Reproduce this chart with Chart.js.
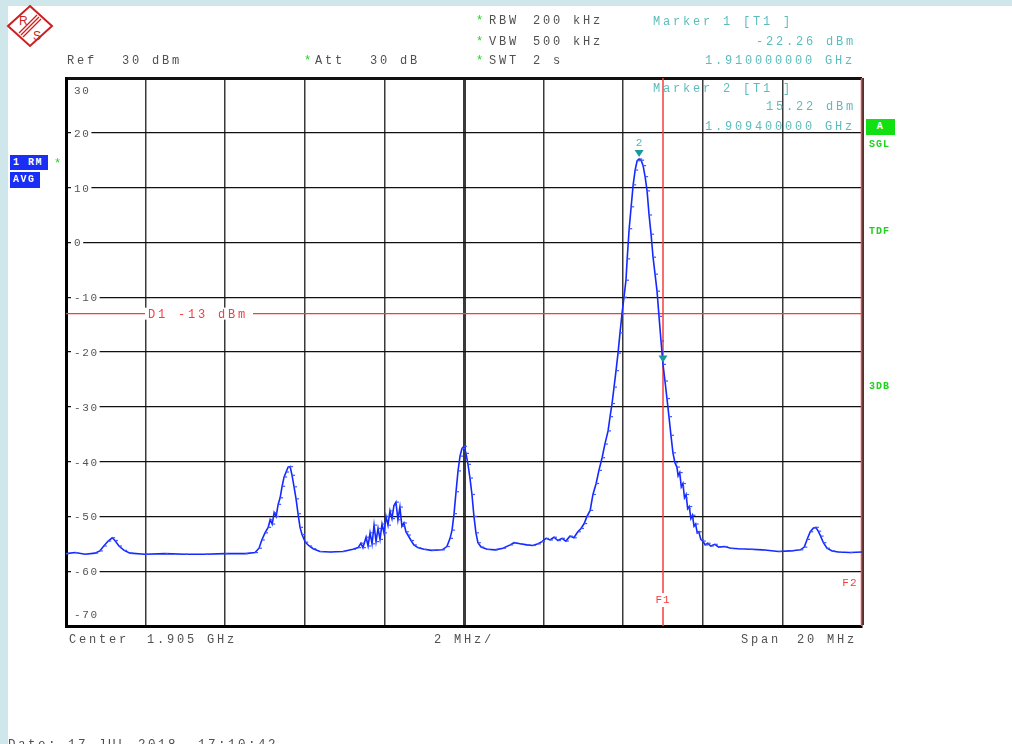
<!DOCTYPE html>
<html><head><meta charset="utf-8">
<script src="https://cdn.jsdelivr.net/npm/chart.js@4.4.1/dist/chart.umd.min.js"></script>
<style>
html,body{margin:0;padding:0;}
body{width:1012px;height:744px;overflow:hidden;position:relative;background:#cfe6ea;font-family:'Liberation Mono',monospace;}
#panel{position:absolute;left:8px;top:6px;width:1004px;height:738px;background:#fff;}
#c{position:absolute;left:0;top:0;}
.t{position:absolute;font-size:12px;letter-spacing:2.8px;line-height:16px;white-space:pre;color:#505050;}
.m{color:#5cbcbc;}
.s{color:#1fd21f;}
.box{position:absolute;color:#fff;font-weight:bold;font-size:10px;letter-spacing:1.5px;line-height:16px;white-space:pre;padding-left:3px;box-sizing:border-box;}
.gr{position:absolute;color:#1fd21f;font-weight:bold;font-size:10px;letter-spacing:1px;line-height:12px;}
</style>
</head><body>
<div id="panel"></div>
<svg style="position:absolute;left:6px;top:4px" width="48" height="44" viewBox="0 0 48 44">
  <polygon points="24,2 46,22 24,42 2,22" fill="#fff" stroke="#cc1f1f" stroke-width="2"/>
  <line x1="15" y1="31" x2="33" y2="13" stroke="#cc1f1f" stroke-width="1.2"/>
  <line x1="17" y1="33" x2="35" y2="15" stroke="#cc1f1f" stroke-width="1.2"/>
  <line x1="13" y1="29" x2="31" y2="11" stroke="#cc1f1f" stroke-width="1.2"/>
  <text x="13" y="21" font-family="Liberation Sans" font-size="12" fill="#cc1f1f">R</text>
  <text x="27" y="36" font-family="Liberation Sans" font-size="12" fill="#cc1f1f">S</text>
</svg>
<canvas id="c" width="1012" height="744"></canvas>

<div class="t" style="left:67px;top:53px">Ref</div>
<div class="t" style="left:122px;top:53px">30 dBm</div>
<div class="t s" style="left:304px;top:53px">*</div>
<div class="t" style="left:315px;top:53px">Att</div>
<div class="t" style="left:370px;top:53px">30 dB</div>

<div class="t s" style="left:476px;top:13px">*</div>
<div class="t" style="left:489px;top:13px">RBW</div>
<div class="t" style="left:533px;top:13px">200 kHz</div>
<div class="t s" style="left:476px;top:34px">*</div>
<div class="t" style="left:489px;top:34px">VBW</div>
<div class="t" style="left:533px;top:34px">500 kHz</div>
<div class="t s" style="left:476px;top:53px">*</div>
<div class="t" style="left:489px;top:53px">SWT</div>
<div class="t" style="left:533px;top:53px">2 s</div>

<div class="t m" style="left:653px;top:14px">Marker 1 [T1 ]</div>
<div class="t m" style="left:756px;top:34px">-22.26 dBm</div>
<div class="t m" style="left:705px;top:53px">1.910000000 GHz</div>
<div class="t m" style="left:653px;top:81px">Marker 2 [T1 ]</div>
<div class="t m" style="left:766px;top:99px">15.22 dBm</div>
<div class="t m" style="left:705px;top:119px">1.909400000 GHz</div>

<div class="box" style="left:10px;top:155px;width:38px;height:15px;background:#1a2ef5;">1 RM</div>
<div class="t s" style="left:54px;top:156px">*</div>
<div class="box" style="left:10px;top:172px;width:30px;height:16px;background:#1a2ef5;">AVG</div>

<div class="box" style="left:866px;top:119px;width:29px;height:16px;background:#12e012;text-align:center;padding-left:0">A</div>
<div class="gr" style="left:869px;top:139px">SGL</div>
<div class="gr" style="left:869px;top:226px">TDF</div>
<div class="gr" style="left:869px;top:381px">3DB</div>

<div class="t" style="left:69px;top:632px">Center</div>
<div class="t" style="left:147px;top:632px">1.905 GHz</div>
<div class="t" style="left:434px;top:632px">2 MHz/</div>
<div class="t" style="left:741px;top:632px">Span</div>
<div class="t" style="left:797px;top:632px">20 MHz</div>
<div class="t" style="left:8px;top:737px;font-size:12.5px;letter-spacing:2.5px">Date: 17.JUL.2018  17:10:42</div>

<script>
// ---- data ----
const freqMHz = [
 1895.00,1895.23,1895.48,1895.73,1895.85,1895.95,1896.06,1896.16,1896.23,1896.33,1896.46,1896.61,1896.98,1897.49,1897.99,1898.49,1898.99,1899.50,1899.75,1899.85,
 1899.92,1900.00,1900.08,1900.13,1900.18,1900.23,1900.28,1900.33,1900.38,1900.43,1900.48,1900.53,1900.58,1900.63,1900.68,1900.73,1900.78,1900.83,1900.88,1900.93,
 1901.01,1901.11,1901.21,1901.38,1901.63,1901.96,1902.21,1902.34,1902.41,1902.46,1902.54,1902.59,1902.64,1902.69,1902.74,1902.79,1902.84,1902.89,1902.94,1902.99,
 1903.04,1903.09,1903.14,1903.19,1903.24,1903.29,1903.34,1903.39,1903.44,1903.49,1903.54,1903.59,1903.67,1903.74,1903.84,1903.99,1904.19,1904.45,1904.57,1904.65,
 1904.70,1904.75,1904.80,1904.85,1904.90,1904.95,1905.00,1905.05,1905.10,1905.15,1905.20,1905.25,1905.30,1905.35,1905.43,1905.58,1905.78,1905.98,1906.16,1906.26,
 1906.41,1906.58,1906.73,1906.86,1906.96,1907.06,1907.16,1907.26,1907.36,1907.46,1907.56,1907.66,1907.76,1907.86,1907.94,1908.02,1908.09,1908.17,1908.24,1908.32,
 1908.39,1908.47,1908.54,1908.62,1908.67,1908.72,1908.77,1908.82,1908.87,1908.92,1908.97,1909.02,1909.07,1909.10,1909.15,1909.20,1909.25,1909.30,1909.35,1909.40,
 1909.45,1909.50,1909.55,1909.60,1909.65,1909.70,1909.75,1909.80,1909.85,1909.90,1909.95,1910.00,1910.05,1910.10,1910.15,1910.20,1910.25,1910.30,1910.35,1910.38,
 1910.42,1910.46,1910.50,1910.54,1910.58,1910.62,1910.66,1910.70,1910.74,1910.78,1910.82,1910.86,1910.90,1910.95,1911.00,1911.06,1911.12,1911.20,1911.30,1911.40,
 1911.55,1911.70,1911.90,1912.20,1912.50,1912.90,1913.20,1913.45,1913.55,1913.62,1913.70,1913.78,1913.84,1913.90,1913.96,1914.03,1914.12,1914.25,1914.40,1914.70,
 1915.00
];
const levelDbm = [
 -56.8,-56.6,-56.9,-56.7,-56.3,-55.4,-54.5,-53.9,-54.4,-55.4,-56.2,-56.7,-56.9,-56.8,-56.9,-56.9,-56.8,-56.8,-56.6,-55.8,
 -54.3,-53.0,-52.0,-50.6,-51.4,-49.3,-50.0,-47.8,-46.6,-44.5,-42.8,-41.9,-41.0,-40.9,-42.5,-44.6,-46.8,-49.5,-52.0,-53.3,
 -54.7,-55.4,-55.9,-56.4,-56.5,-56.4,-56.0,-55.7,-54.9,-55.7,-53.8,-55.4,-53.0,-55.0,-51.6,-54.6,-52.2,-54.2,-51.4,-53.0,
 -50.0,-51.6,-49.0,-50.4,-48.0,-47.4,-50.6,-48.3,-51.8,-51.2,-52.8,-53.4,-54.4,-55.2,-55.7,-56.0,-56.2,-56.1,-55.5,-54.0,
 -52.5,-49.5,-45.5,-41.7,-39.0,-37.6,-37.2,-38.5,-40.5,-43.0,-46.0,-50.0,-53.0,-54.8,-55.6,-56.0,-56.1,-55.8,-55.2,-54.8,
 -55.0,-55.2,-55.3,-55.0,-54.6,-54.0,-54.3,-53.8,-54.4,-54.0,-54.5,-53.6,-53.9,-52.8,-52.2,-51.3,-50.0,-48.9,-46.0,-44.0,
 -41.6,-39.3,-36.8,-34.4,-31.8,-29.4,-26.4,-23.4,-20.2,-16.5,-13.0,-10.0,-6.9,-3.0,2.5,6.5,10.5,13.2,14.9,15.22,
 15.0,14.0,12.0,9.4,5.0,1.5,-2.7,-5.8,-8.9,-13.5,-18.0,-22.26,-25.3,-28.5,-31.8,-35.2,-38.4,-40.2,-41.0,-42.6,
 -42.0,-44.6,-44.0,-46.6,-46.0,-48.6,-48.2,-50.4,-49.8,-51.8,-51.4,-53.0,-52.8,-54.2,-54.5,-55.2,-54.9,-55.4,-55.1,-55.6,
 -55.5,-55.8,-55.9,-56.0,-56.1,-56.4,-56.3,-56.1,-55.6,-54.2,-52.8,-52.1,-52.0,-52.7,-53.6,-54.8,-55.8,-56.3,-56.5,-56.6,
 -56.5
];
const yTickValues = [30,20,10,0,-10,-20,-30,-40,-50,-60,-70];
const yTickLabels = ['30','20','10','0','-10','-20','-30','-40','-50','-60','-70'];
const freqStartMHz = 1895, freqStopMHz = 1915, freqCenterMHz = 1905, freqStepMHz = 2;
const markerFreqMHz = [1910.0, 1909.4];
const markerLevelDbm = [-22.26, 15.22];
const markerNames = ['1','2'];
const displayLineDbm = -13;
const displayLineName = 'D1';
const freqLinesMHz = [1910, 1915];
const freqLineNames = ['F1','F2'];

// ---- drawing ----
const overlay = {
  id: 'overlay',
  beforeDatasetsDraw(chart) {
    const {ctx, chartArea: a, scales: {x, y}} = chart;
    ctx.save();
    ctx.font = '11px "Liberation Mono"';
    ctx.letterSpacing = '1.6px';
    ctx.textBaseline = 'middle';
    ctx.textAlign = 'left';
    yTickValues.forEach((v, i) => {
      let py = y.getPixelForValue(v);
      if (i === 0) py += 12;
      else if (i === yTickValues.length - 1) py -= 12;
      const lbl = yTickLabels[i];
      const w = ctx.measureText(lbl).width;
      const lx = a.left + 8;
      ctx.fillStyle = '#fff';
      ctx.fillRect(lx - 3, py - 3, w + 4, 6);
      ctx.fillStyle = '#555';
      ctx.fillText(lbl, lx, py + 1);
    });
    const red = '#f63c3c';
    ctx.strokeStyle = red;
    ctx.lineWidth = 1.3;
    const yd = y.getPixelForValue(displayLineDbm);
    ctx.beginPath(); ctx.moveTo(a.left, yd); ctx.lineTo(a.right, yd); ctx.stroke();
    ctx.font = '12px "Liberation Mono"';
    ctx.letterSpacing = '2.8px';
    const dtxt = displayLineName + ' ' + displayLineDbm + ' dBm';
    const dw = ctx.measureText(dtxt).width;
    const dx = a.left + 82;
    ctx.fillStyle = '#fff';
    ctx.fillRect(dx - 3, yd - 6, dw + 8, 12);
    ctx.fillStyle = red;
    ctx.fillText(dtxt, dx, yd + 1);
    ctx.font = '11px "Liberation Mono"';
    ctx.letterSpacing = '1px';
    freqLinesMHz.forEach((f, i) => {
      const px = Math.min(x.getPixelForValue(f), a.right - 0.5);
      ctx.strokeStyle = red;
      ctx.lineWidth = 1.5;
      ctx.beginPath(); ctx.moveTo(px, a.top); ctx.lineTo(px, a.bottom); ctx.stroke();
      const nm = freqLineNames[i];
      const w = ctx.measureText(nm).width;
      if (i === 0) {
        const ly = a.bottom - 26;
        ctx.fillStyle = '#fff';
        ctx.fillRect(px - w / 2 - 2, ly - 7, w + 4, 14);
        ctx.fillStyle = red;
        ctx.textAlign = 'center';
        ctx.fillText(nm, px, ly);
      } else {
        ctx.fillStyle = red;
        ctx.textAlign = 'right';
        ctx.fillText(nm, px - 4, a.bottom - 43);
      }
    });
    ctx.restore();
  },
  afterDatasetsDraw(chart) {
    const {ctx, scales: {x, y}} = chart;
    ctx.save();
    markerFreqMHz.forEach((f, i) => {
      const px = x.getPixelForValue(f);
      const py = y.getPixelForValue(markerLevelDbm[i]);
      const tip = py - 2;
      ctx.fillStyle = '#1b9999';
      ctx.beginPath();
      ctx.moveTo(px, tip);
      ctx.lineTo(px - 4.5, tip - 7);
      ctx.lineTo(px + 4.5, tip - 7);
      ctx.closePath();
      ctx.fill();
      if (markerNames[i] === '2') {
        ctx.font = '11px "Liberation Mono"';
        ctx.fillStyle = '#4fb5b5';
        ctx.textAlign = 'center';
        ctx.textBaseline = 'middle';
        ctx.fillText(markerNames[i], px, tip - 14);
      }
    });
    ctx.restore();
  }
};

new Chart(document.getElementById('c'), {
  type: 'line',
  data: {
    datasets: [{
      data: freqMHz.map((f, i) => ({x: f, y: levelDbm[i]})),
      borderColor: '#1428ff',
      borderWidth: 1.6,
      pointStyle: 'dash',
      pointRadius: 3,
      pointBorderColor: '#3a55ff',
      pointBorderWidth: 1.2,
      pointBackgroundColor: '#3a55ff',
      tension: 0,
      fill: false
    }]
  },
  options: {
    responsive: false,
    animation: false,
    devicePixelRatio: 1,
    layout: {padding: {left: 66, top: 78, right: 150, bottom: 118}},
    plugins: {legend: {display: false}, tooltip: {enabled: false}},
    scales: {
      x: {
        type: 'linear', min: freqStartMHz, max: freqStopMHz,
        ticks: {display: false, stepSize: freqStepMHz},
        grid: {
          drawTicks: false,
          color: '#3a3a3a',
          lineWidth: c => (c.tick && c.tick.value === freqCenterMHz) ? 3 : (c.tick && c.tick.value === freqStopMHz ? 3 : 1.5)
        },
        border: {display: true, color: '#000', width: 3}
      },
      y: {
        min: -70, max: 30,
        ticks: {display: false, stepSize: 10},
        grid: {
          drawTicks: false,
          color: '#111',
          lineWidth: c => (c.tick && c.tick.value === 30) ? 3 : 1.3
        },
        border: {display: true, color: '#000', width: 3}
      }
    }
  },
  plugins: [overlay]
});
</script>
</body></html>
